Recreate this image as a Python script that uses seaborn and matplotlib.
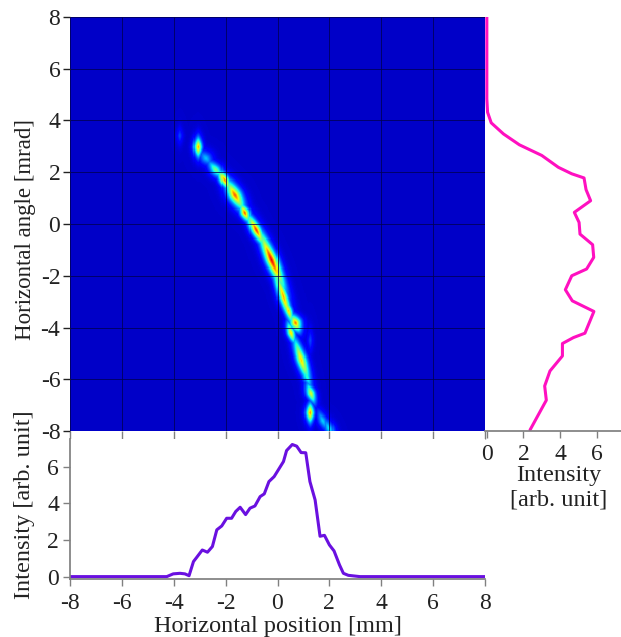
import numpy as np
import pandas as pd
import seaborn as sns
import matplotlib
matplotlib.use("Agg")
import matplotlib.pyplot as plt

sns.set_theme(style="white")
plt.rcParams['font.family'] = ['Liberation Serif', 'DejaVu Serif']

W, H = 621, 637
TICKS = [-8, -6, -4, -2, 0, 2, 4, 6, 8]
X_LABEL = "Horizontal position [mm]"
Y_LABEL = "Horizontal angle [mrad]"
BOTTOM_Y_LABEL = "Intensity [arb. unit]"
RIGHT_X_LABEL = "Intensity\n[arb. unit]"

# Bottom profile
bottom_pos = [-8, -4.27, -4.02, -3.76, -3.57, -3.41, -3.24, -3.12, -2.90, -2.70, -2.51, -2.34, -2.15, -1.96,
              -1.77, -1.61, -1.44, -1.23, -1.06, -0.87, -0.67, -0.51, -0.33, -0.13, 0.23, 0.35, 0.57, 0.74,
              0.91, 1.09, 1.25, 1.45, 1.64, 1.81, 2.0, 2.18, 2.39, 2.54, 2.73, 3.18, 8]
bottom_int = [0, 0, .15, .18, .15, .05, .82, 1.04, 1.45, 1.33, 1.64, 2.55, 2.76, 3.18,
              3.18, 3.55, 3.78, 3.38, 3.73, 3.85, 4.36, 4.51, 5.18, 5.45, 6.27, 6.87, 7.2, 7.11,
              6.76, 6.75, 5.18, 4.18, 2.2, 2.25, 1.73, 1.40, .64, .18, .07, 0, 0]

# Right profile
right_ang = [8, 4.84, 4.32, 3.91, 3.48, 3.06, 2.65, 2.19, 1.94, 1.78, 1.33, .90, .45, .06, -.39, -.8, -1.29,
             -1.74, -2.0, -2.54, -2.97, -3.38, -4.22, -4.39, -4.62, -5.1, -5.68, -6.26, -6.81, -7.96]
right_int = [0, 0, .04, .24, .91, 1.78, 3.0, 3.91, 4.64, 5.31, 5.42, 5.67, 4.78, 5.04, 5.09, 5.78, 5.84,
             5.45, 4.64, 4.29, 4.67, 5.85, 5.36, 4.73, 4.13, 4.13, 3.45, 3.16, 3.25, 2.36]

# Phase-space islands: position, angle, peak level, long and short extent, tilt
blob_x = [-3.77, -3.07, -2.76, -2.37, -2.05, -1.64, -1.25, -0.83, -0.22, 0.22, 0.70, 0.52, 0.93, 1.28, 1.25, 1.75, 2.0, 1.25, 0.42, 1.12]
blob_y = [3.41, 2.97, 2.55, 2.09, 1.70, 1.12, 0.44, -0.23, -1.39, -2.81, -3.83, -4.2, -5.25, -6.54, -7.3, -7.6, -7.9, -4.5, -3.35, -5.9]
blob_peak = [.16, .85, .32, .55, .9, .95, .95, 1.0, 1.08, .85, .92, .8, .8, .7, .88, .34, .38, .16, .8, .45]
blob_long = [.32, .34, .38, .42, .4, .62, .34, .62, 1.1, 1.1, .32, .38, .85, .38, .34, .45, .45, .45, .5, .5]
blob_short = [.12, .14, .24, .2, .16, .23, .16, .17, .2, .16, .2, .14, .18, .16, .14, .18, .18, .12, .14, .16]
blob_tilt = [-90, -90, -50, -50, -60, -60, -65, -62, -67, -72, -65, -72, -72, -70, -90, -65, -65, -90, -72, -70]


def px_axes(left, top, right, bottom):
    return fig.add_axes([left / W, 1 - bottom / H, (right - left) / W, (bottom - top) / H])


n = 400
centers = -8 + (np.arange(n) + .5) * 16 / n
gx, gy = np.meshgrid(centers, centers[::-1])
z = np.zeros_like(gx)
for cx, cy, p, sl, ss, t in zip(blob_x, blob_y, blob_peak, blob_long, blob_short, blob_tilt):
    a = np.radians(t)
    u = (gx - cx) * np.cos(a) + (gy - cy) * np.sin(a)
    v = -(gx - cx) * np.sin(a) + (gy - cy) * np.cos(a)
    z = np.maximum(z, p * np.exp(-(np.abs(u / sl) ** 1.5 + np.abs(v / ss) ** 1.5)))
table = pd.DataFrame(z, index=centers[::-1], columns=centers)

fig = plt.figure(figsize=(W / 100, H / 100), dpi=100, facecolor="white")
FS = 17
LFS = 17.5
GRAY = "#808080"
DARK = "#222222"

ax = px_axes(70, 17, 485, 431)
sns.heatmap(table, ax=ax, cmap="jet", vmin=-.085, vmax=1.2, cbar=False, xticklabels=False, yticklabels=False)
tick_x = [(t + 8) / 16 * n for t in TICKS]
tick_y = [(8 - t) / 16 * n for t in TICKS]
ax.set_xticks(tick_x, [""] * 9)
ax.set_yticks(tick_y, [str(t) for t in TICKS])
ax.set_xlabel("")
ax.set_ylabel(Y_LABEL, fontsize=16.5, color=DARK)
ax.yaxis.set_label_coords((36 - 70) / 415, (431 - 229) / 414)
ax.tick_params(axis="x", length=6, width=1, color=GRAY, bottom=True)
ax.tick_params(axis="y", length=5, width=1, color=DARK, left=True, labelsize=FS, labelcolor=DARK, rotation=0, pad=2)
ax.grid(True, color="#000050", lw=.55)
ax.set_axisbelow(False)
for s in ax.spines.values():
    s.set_visible(False)

axb = px_axes(70, 439, 485, 579)
sns.lineplot(x=bottom_pos, y=bottom_int, ax=axb, color="#6a10e0", lw=2.2, estimator=None, sort=False)
axb.set_xlim(-8, 8)
axb.set_ylim(-.13, 7.5)
axb.set_xticks(TICKS, [str(t) for t in TICKS])
axb.set_yticks([0, 2, 4, 6])
axb.set_xlabel(X_LABEL, fontsize=LFS, color=DARK)
axb.xaxis.set_label_coords((278 - 70) / 415, (579 - 616) / 140)
axb.set_ylabel(BOTTOM_Y_LABEL, fontsize=LFS, color=DARK)
axb.yaxis.set_label_coords((35 - 70) / 415, (579 - 505) / 140)
axb.tick_params(length=5, width=1, color=GRAY, labelsize=FS, labelcolor=DARK, bottom=True, left=True)
axb.tick_params(axis="x", pad=5)
axb.tick_params(axis="y", pad=3)
axb.spines[["top", "right"]].set_visible(False)
axb.spines[["left", "bottom"]].set_color(GRAY)

axr = px_axes(485, 17, 621, 431)
sns.lineplot(x=right_int, y=right_ang, ax=axr, color="#ff10c0", lw=2.2, estimator=None, sort=False, orient="y")
axr.set_xlim(-.1, 7.33)
axr.set_ylim(-8, 8)
axr.set_xticks([0, 2, 4, 6])
axr.set_yticks([])
axr.set_xlabel(RIGHT_X_LABEL, fontsize=LFS, color=DARK, linespacing=1.2)
axr.xaxis.set_label_coords((559 - 485) / 136, -(465 - 431) / 414)
axr.tick_params(length=5, width=1, color=GRAY, labelsize=FS, labelcolor=DARK, bottom=True, pad=4)
axr.spines[["top", "right", "left"]].set_visible(False)
axr.spines["bottom"].set_color(GRAY)

fig.savefig("out.png", dpi=100)
